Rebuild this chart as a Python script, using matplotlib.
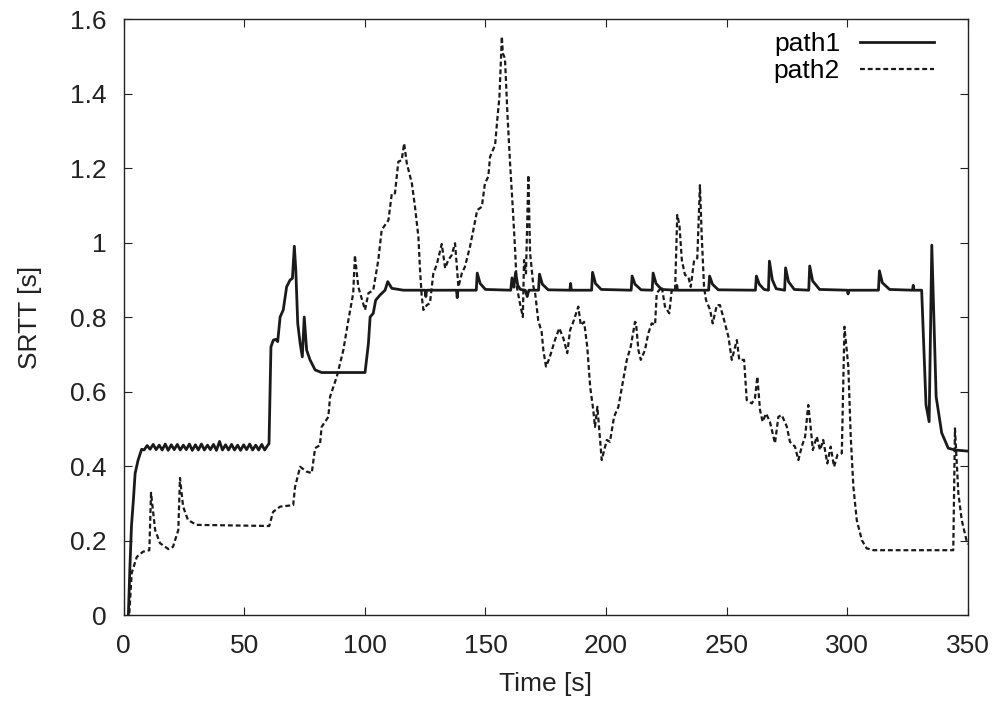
import numpy as np
import matplotlib
matplotlib.use('Agg')
import matplotlib.pyplot as plt

plt.rcParams['font.family'] = ['Liberation Sans', 'DejaVu Sans']

# path1 (solid)
t1 = [2.0, 2.6, 3.3, 4.1, 4.8, 6.0, 7.5,
      8.5, 9.8, 11.0, 12.3, 13.5, 14.8, 16.0, 17.3, 18.5, 19.8, 21.0, 22.3, 23.5, 24.8,
      26.0, 27.3, 28.5, 29.8, 31.0, 32.3, 33.5, 34.8, 36.0, 37.3, 38.5, 39.8, 41.0, 42.3,
      43.5, 44.8, 46.0, 47.3, 48.5, 49.8, 51.0, 52.3, 53.5, 54.8, 56.0, 57.3, 58.5, 59.7,
      60.3, 60.7, 61.1, 62.1, 63.0, 63.9, 64.9, 66.2, 67.6, 69.0, 70.0, 70.8, 71.4, 72.2,
      73.2, 74.1, 74.9, 75.9, 77.3, 79.4, 82.1, 90.0, 100.1, 101.5, 102.2, 103.5, 104.5,
      106.3, 108.4, 109.5, 111.2, 116.0,
      125.0, 125.3, 125.6, 138.0, 138.3, 138.6,
      146.2, 146.6, 147.8, 150.0,
      160.5, 161.0, 161.8, 162.5, 163.4, 164.5, 166.5, 167.3, 168.0,
      172.0, 172.4, 173.6, 176.0,
      185.0, 185.3, 185.6,
      194.0, 194.4, 195.6, 198.0,
      210.4, 210.8, 212.0, 214.5,
      219.1, 219.5, 220.7, 223.0,
      229.0, 229.3, 229.6,
      242.5, 242.9, 244.1, 246.5,
      261.9, 262.3, 263.5, 265.5, 267.3, 267.7, 268.9, 270.5,
      274.0, 274.4, 275.6, 278.0,
      284.0, 284.4, 285.6, 288.5,
      300.0, 300.3, 300.6,
      312.9, 313.3, 314.5, 317.5,
      327.0, 327.3, 327.6, 330.8, 332.6, 333.9, 335.0, 336.8, 339.1, 341.8, 344.6, 350.0]
srtt1 = [0.0, 0.12, 0.24, 0.31, 0.38, 0.415, 0.445,
         0.443, 0.455, 0.445, 0.458, 0.444, 0.456, 0.443, 0.459, 0.442, 0.457, 0.444, 0.458, 0.443, 0.456,
         0.444, 0.459, 0.442, 0.457, 0.443, 0.459, 0.443, 0.456, 0.444, 0.458, 0.442, 0.466, 0.443, 0.457,
         0.443, 0.458, 0.443, 0.456, 0.442, 0.457, 0.444, 0.459, 0.443, 0.456, 0.443, 0.458, 0.443, 0.455,
         0.46, 0.59, 0.72, 0.738, 0.74, 0.734, 0.80, 0.819, 0.881, 0.899, 0.904, 0.99, 0.926, 0.783,
         0.729, 0.693, 0.80, 0.711, 0.685, 0.658, 0.651, 0.651, 0.651, 0.729, 0.80, 0.81, 0.845,
         0.859, 0.872, 0.895, 0.877, 0.872,
         0.872, 0.855, 0.872, 0.872, 0.852, 0.872,
         0.872, 0.918, 0.89, 0.874,
         0.872, 0.905, 0.88, 0.92, 0.885, 0.874, 0.872, 0.855, 0.872,
         0.872, 0.915, 0.888, 0.873,
         0.872, 0.89, 0.872,
         0.872, 0.92, 0.89, 0.874,
         0.872, 0.91, 0.888, 0.873,
         0.872, 0.918, 0.89, 0.874,
         0.872, 0.885, 0.872,
         0.872, 0.91, 0.888, 0.873,
         0.872, 0.91, 0.888, 0.874, 0.872, 0.95, 0.9, 0.876,
         0.872, 0.932, 0.895, 0.874,
         0.872, 0.937, 0.897, 0.874,
         0.872, 0.862, 0.872,
         0.872, 0.924, 0.892, 0.874,
         0.872, 0.885, 0.872, 0.872, 0.564, 0.519, 0.993, 0.586, 0.489, 0.448, 0.443, 0.44]

# path2 (dashed)
t2 = [2.4, 3.4, 5.5, 8.1, 10.7, 11.4, 13.1, 15.1, 18.6, 20.5, 22.7, 23.4, 24.7, 26.7, 30.3,
      60.4, 62.0, 64.9, 70.3, 71.1, 73.2, 75.9, 78.0, 79.4, 81.4, 82.1, 84.9,
      85.6, 88.4, 91.1, 93.2, 95.2, 95.9, 97.3, 100.1, 101.5, 103.5, 105.6, 107.0,
      109.8, 111.2, 112.5, 113.9, 115.3, 116.3, 117.4, 119.5, 120.8, 122.2, 122.9, 123.6,
      124.3, 125.7, 127.0, 128.4, 129.8, 131.9, 133.3, 134.6, 136.0, 137.4, 138.8, 140.2,
      141.5, 143.6, 145.0, 146.6, 148.5, 149.8, 151.2, 151.9, 154.0, 154.9, 155.8, 156.8,
      157.2, 158.1, 159.1, 160.2, 161.3, 162.3, 163.0, 164.3, 165.5, 166.0, 166.8, 167.8,
      168.5, 169.9, 170.6, 171.9, 173.3, 174.0, 175.1, 176.5, 178.8, 180.6, 182.3, 183.9,
      185.1, 186.2, 188.5, 189.5, 190.9, 192.2, 193.4, 194.7, 195.4, 196.4, 197.2, 198.2,
      200.3, 201.6, 203.3, 205.1, 206.5, 208.6, 210.2, 212.0, 212.4, 213.4, 214.4, 216.1,
      217.5, 218.9, 220.3, 221.0, 223.1, 224.4, 226.2, 227.2, 228.6, 229.5, 230.4, 231.4,
      232.7, 234.1, 235.1, 236.5, 237.8, 238.9, 239.6, 240.6, 241.4, 243.1, 244.2, 245.9,
      247.2, 248.9, 250.7, 252.1, 254.2, 255.2, 257.2, 258.3, 260.4, 261.7, 262.7, 263.8,
      264.9, 266.3, 267.9, 270.0, 271.4, 272.8, 274.9, 276.2, 278.3, 279.7, 281.1, 282.5,
      283.8, 284.5, 285.7, 287.3, 288.7, 290.0, 291.7, 293.1, 294.5, 295.9, 297.7, 298.8,
      300.4, 301.4, 302.5, 303.9, 306.0, 308.0, 310.8, 330.0, 343.9, 344.6, 346.0, 347.4,
      349.5, 350.0]
srtt2 = [0.005, 0.113, 0.156, 0.17, 0.174, 0.328, 0.228, 0.193, 0.177, 0.183, 0.228, 0.368, 0.291, 0.255, 0.242,
         0.239, 0.277, 0.291, 0.295, 0.344, 0.398, 0.385, 0.381, 0.448, 0.456, 0.505, 0.532,
         0.586, 0.64, 0.711, 0.792, 0.864, 0.966, 0.881, 0.819, 0.864, 0.872, 0.953, 1.034,
         1.06, 1.132, 1.132, 1.217, 1.221, 1.266, 1.213, 1.159, 1.096, 1.016, 0.926, 0.855,
         0.819, 0.832, 0.837, 0.917, 0.94, 0.996, 0.931, 0.953, 0.966, 0.998, 0.881, 0.917,
         0.935, 0.989, 1.034, 1.087, 1.096, 1.159, 1.177, 1.23, 1.262, 1.329, 1.391, 1.553,
         1.508, 1.494, 1.347, 1.213, 1.096, 0.98, 0.881, 0.837, 0.80, 0.953, 0.917, 1.181,
         0.972, 0.881, 0.864, 0.79, 0.76, 0.711, 0.667, 0.689, 0.738, 0.77, 0.743, 0.703,
         0.765, 0.783, 0.828, 0.778, 0.787, 0.72, 0.613, 0.55, 0.505, 0.559, 0.497, 0.416,
         0.47, 0.465, 0.532, 0.559, 0.609, 0.685, 0.72, 0.787, 0.784, 0.711, 0.685, 0.711,
         0.756, 0.783, 0.779, 0.864, 0.881, 0.828, 0.81, 0.872, 0.872, 1.074, 1.047, 0.953,
         0.913, 0.908, 0.881, 0.953, 0.958, 1.154, 1.025, 0.881, 0.846, 0.819, 0.783, 0.832,
         0.832, 0.792, 0.747, 0.685, 0.738, 0.685, 0.685, 0.577, 0.568, 0.582, 0.64, 0.55,
         0.519, 0.541, 0.519, 0.461, 0.532, 0.537, 0.506, 0.465, 0.452, 0.416, 0.452, 0.479,
         0.564, 0.523, 0.443, 0.479, 0.443, 0.47, 0.407, 0.452, 0.398, 0.43, 0.434, 0.774,
         0.667, 0.479, 0.344, 0.255, 0.201, 0.179, 0.174, 0.174, 0.174, 0.501, 0.327, 0.255,
         0.197, 0.19]

fig = plt.figure(figsize=(9.97, 7.07), dpi=100)
ax = fig.add_axes([0.1239, 0.1301, 0.8470, 0.8430])

ax.plot(t1, srtt1, color='#1a1a1a', lw=2.0, label='path1')
ax.plot(t2, srtt2, color='#1a1a1a', lw=1.6, linestyle=(0, (2.2, 1.3)), label='path2')

ax.set_xlim(0, 350)
ax.set_ylim(0, 1.6)
ax.set_xticks(np.arange(0, 351, 50))
ax.set_yticks([0, 0.2, 0.4, 0.6, 0.8, 1, 1.2, 1.4, 1.6])
ax.set_yticklabels(['0', '0.2', '0.4', '0.6', '0.8', '1', '1.2', '1.4', '1.6'])
ax.tick_params(direction='in', length=6, width=0.8, top=True, right=True, labelsize=19, colors='#222222')
ax.tick_params(axis='x', pad=14)
ax.tick_params(axis='y', pad=12.5)
for s in ax.spines.values():
    s.set_linewidth(1.0)
    s.set_color('#222222')

ax.set_xlabel('Time [s]', fontsize=19, color='#222222', labelpad=10)
ax.set_ylabel('SRTT [s]', fontsize=19, color='#222222', labelpad=20)

ax.legend(loc='upper right', bbox_to_anchor=(0.9597, 0.978), frameon=False, fontsize=19,
          markerfirst=False, handlelength=2.8, handletextpad=0.76, labelspacing=0.1,
          borderaxespad=0, borderpad=0)

fig.savefig('out.png', dpi=100)
